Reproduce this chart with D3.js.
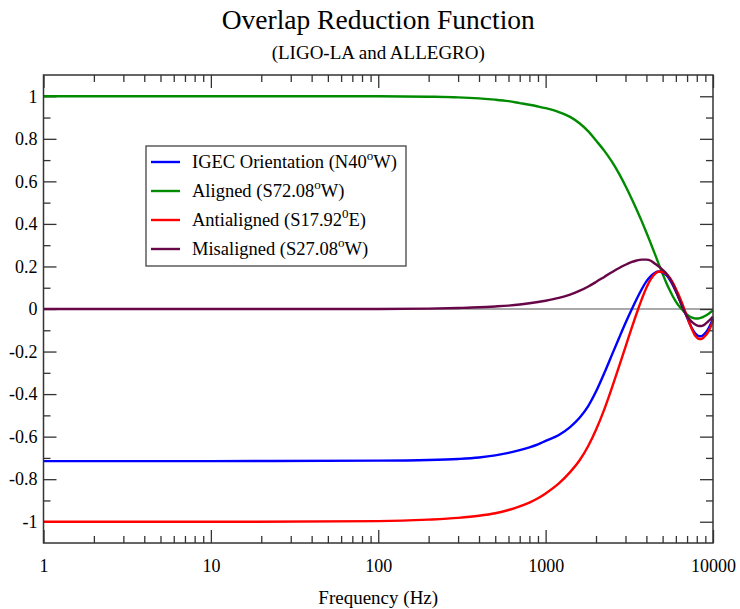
<!DOCTYPE html>
<html><head><meta charset="utf-8">
<script src="https://cdn.jsdelivr.net/npm/d3@7"></script>
<style>body{margin:0;background:#fff}svg text{font-family:"Liberation Serif","DejaVu Serif",serif !important;fill:#000}</style>
</head><body><svg id="c" width="740" height="609"></svg>
<script>
const freqs = [1,10,100,200,300,400,500,600,700,800,900,1000,1200,1400,1600,1800,2000,2250,2500,2750,3000,3250,3500,3750,4000,4250,4500,4750,5000,5250,5500,5750,6000,6250,6500,6750,7000,7250,7500,7750,8000,8250,8500,8750,9000,9250,9500,9750,10000];
const igec = [-0.715,-0.715,-0.713,-0.71,-0.705,-0.698,-0.688,-0.676,-0.663,-0.65,-0.636,-0.62,-0.592,-0.555,-0.51,-0.455,-0.388,-0.298,-0.212,-0.135,-0.066,-0.006,0.047,0.093,0.13,0.155,0.17,0.176,0.172,0.16,0.14,0.113,0.083,0.052,0.02,-0.01,-0.04,-0.068,-0.092,-0.11,-0.122,-0.128,-0.128,-0.122,-0.113,-0.101,-0.085,-0.066,-0.045];
const aligned = [1,1,1,0.998,0.995,0.99,0.984,0.977,0.968,0.96,0.952,0.944,0.926,0.903,0.872,0.835,0.792,0.742,0.69,0.635,0.578,0.522,0.467,0.413,0.36,0.308,0.258,0.21,0.165,0.125,0.09,0.06,0.035,0.015,0,-0.015,-0.027,-0.036,-0.041,-0.044,-0.045,-0.044,-0.041,-0.037,-0.032,-0.026,-0.02,-0.013,-0.006];
const antialigned = [-1,-1,-0.997,-0.99,-0.982,-0.972,-0.96,-0.945,-0.928,-0.91,-0.89,-0.867,-0.82,-0.767,-0.71,-0.643,-0.568,-0.468,-0.366,-0.268,-0.178,-0.095,-0.02,0.045,0.1,0.14,0.165,0.176,0.174,0.165,0.148,0.124,0.095,0.065,0.032,-0.002,-0.036,-0.068,-0.097,-0.12,-0.134,-0.141,-0.141,-0.135,-0.126,-0.114,-0.098,-0.078,-0.052];
const misaligned = [0,0,0,0.002,0.005,0.008,0.012,0.016,0.021,0.027,0.033,0.039,0.052,0.068,0.086,0.106,0.127,0.152,0.174,0.193,0.208,0.22,0.228,0.232,0.232,0.227,0.213,0.199,0.184,0.168,0.145,0.117,0.085,0.05,0.018,-0.012,-0.035,-0.05,-0.062,-0.071,-0.077,-0.08,-0.08,-0.077,-0.07,-0.062,-0.054,-0.045,-0.036];
const seriesNames = ["IGEC Orientation (N40|o|W)","Aligned (S72.08|o|W)","Antialigned (S17.92|0|E)","Misaligned (S27.08|o|W)"];
const seriesColors = ["#0000ff","#008b00","#ff0000","#670748"];
const xTickLabels = ["1","10","100","1000","10000"];
const yTickLabels = ["-1","-0.8","-0.6","-0.4","-0.2","0","0.2","0.4","0.6","0.8","1"];
const titleText = "Overlap Reduction Function";
const subtitleText = "(LIGO-LA and ALLEGRO)";
const xLabel = "Frequency (Hz)";

const svg = d3.select("#c");
const L=43.5,R=713,T=75,B=543;
const x = d3.scaleLog().domain([1,10000]).range([L,R]);
const y = d3.scaleLinear().domain([-1.1,1.1]).range([B,T]);

svg.append("text").attr("x",(L+R)/2).attr("y",29).attr("text-anchor","middle").attr("font-size",27.5).text(titleText);
svg.append("text").attr("x",(L+R)/2).attr("y",59).attr("text-anchor","middle").attr("font-size",19).text(subtitleText);
svg.append("text").attr("x",(L+R)/2).attr("y",604).attr("text-anchor","middle").attr("font-size",19).text(xLabel);

// zero line
svg.append("line").attr("x1",L).attr("x2",R).attr("y1",y(0)).attr("y2",y(0)).attr("stroke","#555").attr("stroke-width",1.2);

const majorX = xTickLabels.map(Number);
const minorX = [];
for (let d=1; d<10000; d*=10) for (let k=2;k<10;k++) minorX.push(d*k);
const majorY = yTickLabels.map(Number);
const minorY = d3.range(-11,12,2).map(v=>v/10).filter(v=>v>-1.1&&v<1.1);

function styleAxis(g){ g.attr("font-family",null).attr("font-size",null); g.select(".domain").remove(); g.selectAll("line").attr("stroke","#333").attr("stroke-width",1.3); g.selectAll("text").attr("font-size",18).style("font-family","'Liberation Serif', serif"); }

svg.append("g").attr("transform",`translate(0,${B})`).call(d3.axisBottom(x).tickValues(majorX).tickFormat((d,i)=>xTickLabels[i]).tickSizeInner(-13).tickSizeOuter(0).tickPadding(16)).call(styleAxis);
svg.append("g").attr("transform",`translate(0,${B})`).call(d3.axisBottom(x).tickValues(minorX).tickFormat("").tickSizeInner(-7).tickSizeOuter(0)).call(styleAxis);
svg.append("g").attr("transform",`translate(0,${T})`).call(d3.axisTop(x).tickValues(majorX).tickFormat("").tickSizeInner(-13).tickSizeOuter(0)).call(styleAxis);
svg.append("g").attr("transform",`translate(0,${T})`).call(d3.axisTop(x).tickValues(minorX).tickFormat("").tickSizeInner(-7).tickSizeOuter(0)).call(styleAxis);
svg.append("g").attr("transform",`translate(${L},0)`).call(d3.axisLeft(y).tickValues(majorY).tickFormat((d,i)=>yTickLabels[i]).tickSizeInner(-13).tickSizeOuter(0).tickPadding(6)).call(styleAxis);
svg.append("g").attr("transform",`translate(${L},0)`).call(d3.axisLeft(y).tickValues(minorY).tickFormat("").tickSizeInner(-7).tickSizeOuter(0)).call(styleAxis);
svg.append("g").attr("transform",`translate(${R},0)`).call(d3.axisRight(y).tickValues(majorY).tickFormat("").tickSizeInner(-13).tickSizeOuter(0)).call(styleAxis);
svg.append("g").attr("transform",`translate(${R},0)`).call(d3.axisRight(y).tickValues(minorY).tickFormat("").tickSizeInner(-7).tickSizeOuter(0)).call(styleAxis);

const allSeries = [igec, aligned, antialigned, misaligned];
const line = d3.line().x((d,i)=>x(freqs[i])).y(d=>y(d)).curve(d3.curveMonotoneX);
const drawOrder = [1,0,2,3];
drawOrder.forEach(s=>{
  svg.append("path").datum(allSeries[s]).attr("d",line).attr("fill","none").attr("stroke",seriesColors[s]).attr("stroke-width",2.4).attr("stroke-linejoin","round");
});

svg.append("rect").attr("x",L).attr("y",T).attr("width",R-L).attr("height",B-T).attr("fill","none").attr("stroke","#333").attr("stroke-width",1.5);

// legend
const lg = svg.append("g");
lg.append("rect").attr("x",146).attr("y",146).attr("width",260).attr("height",120).attr("fill","#fff").attr("stroke","#444").attr("stroke-width",1.3);
seriesNames.forEach((n,i)=>{
  const yy = 162 + i*29;
  lg.append("line").attr("x1",151).attr("x2",180).attr("y1",yy).attr("y2",yy).attr("stroke",seriesColors[i]).attr("stroke-width",2.4);
  const parts = n.split("|");
  const t = lg.append("text").attr("x",192).attr("y",yy+6).attr("font-size",18.5);
  t.append("tspan").text(parts[0]);
  t.append("tspan").attr("dy",-8).attr("font-size",13).text(parts[1]);
  t.append("tspan").attr("dy",8).text(parts[2]);
});
</script></body></html>
